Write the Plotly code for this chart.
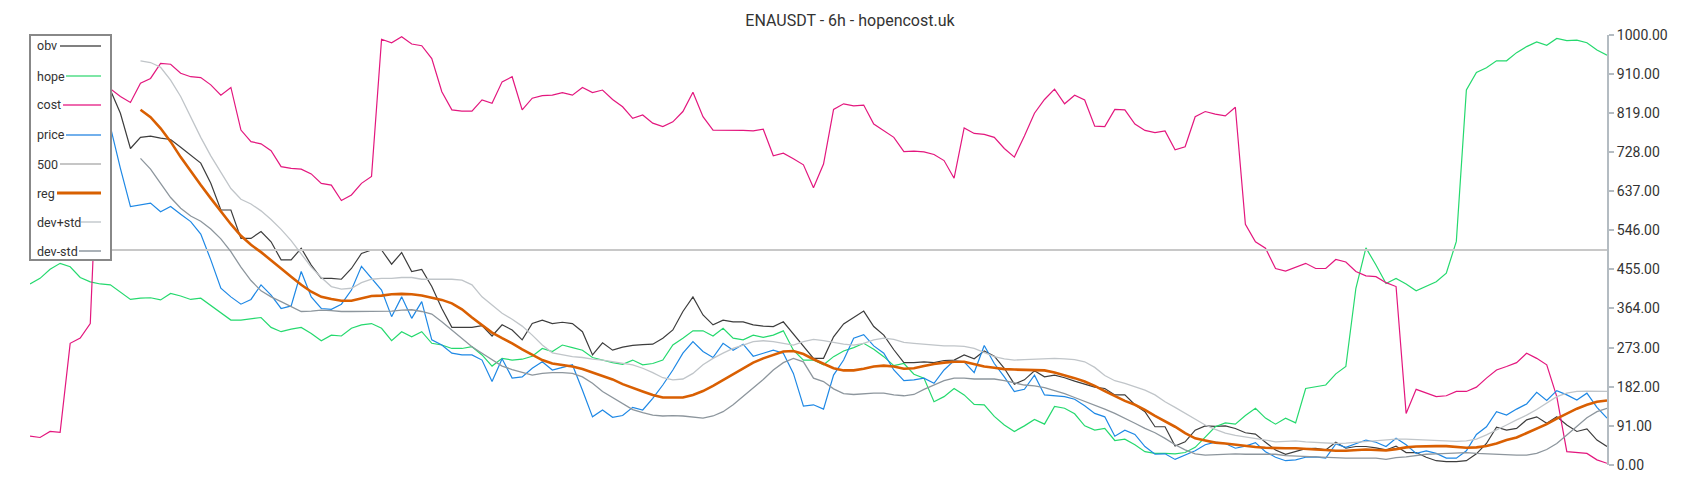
import plotly.graph_objects as go

# ---------------- data (index = 6h candle) ----------------
cost = [67, 64, 78, 76, 283, 295, 329, 880, 875, 857, 843, 888, 899, 934, 932, 911, 903, 901, 884, 860,
        878, 779, 752, 747, 731, 694, 690, 688, 677, 655, 651, 615, 628, 655, 671, 990, 982, 996, 979,
        975, 945, 868, 826, 823, 823, 849, 841, 891, 903, 826, 853, 859, 860, 866, 860, 878, 866, 872, 850,
        833, 806, 814, 795, 787, 798, 822, 867, 810, 779, 779, 779, 778, 777, 781, 719, 725, 712, 698, 645,
        700, 827, 840, 835, 837, 793, 777, 762, 729, 730, 728, 722, 708, 667, 784, 771, 769, 762, 736, 716,
        765, 818, 850, 874, 840, 860, 849, 788, 787, 827, 826, 793, 778, 773, 777, 733, 740, 810,
        822, 816, 812, 832, 560, 519, 504, 457, 451, 460, 469, 457, 457, 478, 472, 450, 440, 438, 424, 415,
        120, 176, 168, 159, 161, 171, 171, 181, 202, 221, 229, 238, 260, 248, 233, 159, 31, 29, 27, 12, 4]

hope = [421, 434, 455, 469, 461, 436, 426, 421, 419, 401, 385, 388, 389, 384, 399, 393, 385, 388, 371, 353,
        337, 337, 340, 343, 320, 310, 316, 320, 306, 289, 302, 300, 318, 326, 329, 318, 289, 310, 298,
        310, 283, 279, 271, 271, 275, 256, 230, 248, 244, 246, 253, 271, 264, 279, 273, 267, 250, 244, 238,
        234, 244, 233, 236, 244, 279, 295, 312, 312, 300, 318, 295, 291, 302, 297, 302, 312, 267, 244, 244,
        233, 252, 265, 273, 283, 269, 252, 231, 236, 211, 202, 147, 159, 178, 163, 141, 140, 113, 93, 78,
        91, 106, 95, 136, 132, 119, 91, 81, 85, 57, 60, 47, 31, 27, 27, 26, 29, 41,
        65, 89, 98, 95, 115, 132, 109, 95, 109, 98, 178, 182, 186, 212, 229, 411, 505, 465, 422, 434,
        421, 405, 416, 426, 446, 520, 872, 913, 924, 940, 940, 959, 973, 984, 976, 992, 987, 988, 982, 965, 953]

obv = [880, 900, 920, 910, 930, 905, 890, 885, 872, 818, 736, 762, 765, 760, 757, 739, 721, 702, 655, 593,
       593, 527, 527, 543, 519, 477, 477, 504, 465, 434, 434, 432, 457, 492, 500, 500, 467, 494, 450,
       455, 415, 364, 320, 320, 320, 324, 300, 326, 314, 291, 329, 337, 329, 332, 329, 310, 256, 284, 267,
       274, 278, 280, 281, 295, 314, 357, 391, 349, 326, 337, 333, 333, 326, 323, 322, 333, 305, 275, 248,
       248, 298, 328, 343, 358, 322, 302, 268, 238, 238, 240, 238, 243, 244, 256, 247, 265, 253, 225, 188,
       198, 219, 205, 209, 203, 195, 188, 181, 178, 163, 163, 140, 124, 89, 89, 44, 54, 81,
       91, 90, 91, 85, 75, 72, 53, 35, 25, 31, 38, 39, 35, 53, 39, 43, 43, 40, 35, 44,
       29, 29, 18, 10, 8, 8, 10, 26, 50, 88, 81, 85, 105, 112, 97, 112, 93, 78, 84, 58, 43]

price = [800, 820, 810, 830, 815, 800, 790, 795, 787, 690, 601, 605, 609, 589, 601, 583, 566, 537, 477, 411,
         391, 374, 385, 419, 395, 364, 370, 450, 391, 364, 362, 374, 407, 462, 434, 407, 345, 391, 341,
         380, 291, 279, 260, 256, 256, 244, 194, 247, 202, 205, 225, 240, 221, 227, 233, 174, 112, 128, 111,
         115, 134, 128, 155, 186, 221, 260, 287, 264, 250, 283, 267, 281, 253, 260, 267, 260, 213, 137, 140,
         130, 209, 244, 295, 303, 277, 260, 221, 196, 198, 202, 190, 221, 243, 240, 215, 278, 236, 205, 171,
         176, 209, 163, 161, 159, 153, 138, 120, 112, 67, 81, 71, 43, 25, 26, 13, 23, 33,
         47, 53, 50, 39, 44, 52, 31, 18, 10, 12, 18, 19, 16, 49, 41, 49, 58, 53, 43, 62,
         47, 27, 33, 27, 16, 16, 33, 71, 89, 124, 116, 130, 142, 169, 150, 173, 163, 151, 167, 134, 109]

NA = None
reg = [NA] * 11 + [
    826, 809, 783, 752, 716, 682, 651, 620, 589, 560, 533, 512, 495, 475, 457, 438, 419, 403, 391, 386,
    382, 382, 388, 393, 394, 397, 398, 397,
    394, 389, 384, 376, 362, 343, 326, 308, 295, 283, 269, 256, 244, 236, 233, 229, 223, 215, 207, 199,
    188, 179, 171, 163, 157, 157, 157, 163, 172, 184, 198, 212, 226, 238, 248, 256, 264, 265, 258, 246,
    235, 225, 220, 220, 224, 229, 231, 229, 224, 225, 230, 235, 238, 240, 240, 234, 229, 226, 223, 222,
    221, 220, 220, 215, 209, 202, 194, 184, 172, 160, 149, 140, 128, 114, 101, 89, 74, 62,
    57, 52, 50, 47, 44, 42, 40, 39, 39, 39, 37, 36, 35, 33, 33, 35, 36, 35, 34, 37,
    41, 43, 44, 44, 44, 42, 40, 41, 44, 50, 58, 64, 74, 84, 95, 108, 120, 131, 140, 147, 150]

dev_plus = [NA] * 11 + [
    940, 936, 925, 895, 857, 809, 762, 719, 680, 643, 618, 607, 591, 571, 548, 522, 491, 460, 436, 415,
    409, 411, 424, 432, 434, 434, 436, 436,
    432, 432, 432, 432, 430, 419, 391, 372, 353, 339, 323, 302, 279, 261, 256, 252, 250, 246, 244, 240,
    236, 233, 225, 215, 203, 198, 200, 213, 233, 248, 260, 271, 279, 287, 289, 287, 283, 279, 287, 292,
    289, 285, 281, 279, 283, 291, 295, 292, 285, 283, 281, 279, 277, 277, 276, 271, 261, 252, 247, 244,
    245, 246, 247, 248, 247, 245, 240, 227, 208, 196, 190, 182, 174, 163, 147, 134, 120, 105,
    93, 83, 74, 69, 65, 61, 57, 54, 55, 56, 54, 53, 52, 50, 51, 53, 55, 57, 59, 60,
    60, 59, 58, 57, 57, 55, 56, 60, 70, 81, 93, 105, 116, 129, 145, 159, 167, 171, 172, 172, 171]

dev_minus = [NA] * 11 + [
    713, 688, 655, 622, 597, 579, 567, 549, 526, 496, 460, 429, 405, 391, 380, 368, 357, 358, 360, 359,
    357, 357, 357, 357, 357, 358, 360, 361,
    357, 351, 333, 314, 295, 275, 260, 244, 230, 222, 215, 209, 213, 215, 215, 213, 205, 190, 171, 157,
    143, 129, 122, 116, 114, 115, 114, 111, 109, 114, 124, 140, 159, 178, 199, 221, 238, 248, 240, 202,
    194, 177, 166, 164, 166, 167, 167, 163, 161, 164, 176, 186, 196, 202, 202, 200, 200, 200, 196, 191,
    186, 184, 180, 173, 166, 157, 148, 140, 130, 120, 109, 97, 85, 75, 62, 47, 35, 26,
    23, 24, 26, 26, 25, 25, 26, 25, 22, 21, 19, 18, 17, 16, 16, 16, 16, 16, 13, 17,
    19, 22, 25, 26, 27, 29, 29, 27, 26, 25, 23, 23, 23, 27, 36, 50, 70, 89, 110, 124, 132]

level = 500
tick_vals = [0, 91, 182, 273, 364, 455, 546, 637, 728, 819, 910, 1000]
tick_text = [f"{v:.2f}" for v in tick_vals]
title_text = "ENAUSDT - 6h - hopencost.uk"

# ---------------- figure ----------------
n = len(cost)
x = list(range(n))

series = [
    ("obv", obv, "#3d3d3d", 1.2),
    ("hope", hope, "#25d96e", 1.2),
    ("cost", cost, "#e3177e", 1.2),
    ("price", price, "#1e88e5", 1.2),
    ("500", [level] * n, "#c8c8c8", 2.0),
    ("reg", reg, "#d95f02", 2.6),
    ("dev+std", dev_plus, "#c0c5c9", 1.3),
    ("dev-std", dev_minus, "#8d969d", 1.3),
]

fig = go.Figure()
for name, ys, col, w in series:
    fig.add_trace(go.Scatter(x=x, y=ys, name=name, mode="lines",
                             line=dict(color=col, width=w), connectgaps=False))

# the page body has an 8px margin, so the figure is 16px smaller than the window
OFF = 8
W, H = 1700 - 2 * OFF, 500 - 2 * OFF
ML, MT = 30 - OFF, 35 - OFF
MR = W - (1607 - OFF)
MB = H - (465 - OFF)
PW, PH = W - ML - MR, H - MT - MB


def px_x(px):
    # px in window pixel coordinates -> paper fraction
    return (px - OFF - ML) / PW


def px_y(py):
    return (H - MB - (py - OFF)) / PH


# manual legend (label first, line sample after it, as in the original)
legend_items = [
    ("obv", "#808080", 2, 46, 60),
    ("hope", "#7ee6a6", 2, 76, 66),
    ("cost", "#ee6aae", 2, 105, 63),
    ("price", "#72b0ec", 2, 135, 66),
    ("500", "#c6c6c6", 2, 164, 60),
    ("reg", "#d86000", 3, 193, 57),
    ("dev+std", "#d3d7da", 2, 222, 81),
    ("dev-std", "#aab1b7", 2, 251, 79),
]
shapes = [dict(type="rect", xref="paper", yref="paper",
               x0=px_x(30), x1=px_x(111), y0=px_y(260), y1=px_y(35),
               fillcolor="white", line=dict(color="#888888", width=2), layer="above")]
annotations = []
for label, col, w, yy, xs in legend_items:
    shapes.append(dict(type="line", xref="paper", yref="paper",
                       x0=px_x(xs), x1=px_x(101), y0=px_y(yy), y1=px_y(yy),
                       line=dict(color=col, width=w), layer="above"))
    annotations.append(dict(text=label, xref="paper", yref="paper",
                            x=px_x(35), y=px_y(yy), xanchor="left", yanchor="middle",
                            showarrow=False, font=dict(family="Roboto", size=12.5, color="#333333")))

fig.update_layout(
    width=W, height=H,
    margin=dict(l=ML, r=MR, t=MT, b=MB, pad=0),
    paper_bgcolor="white", plot_bgcolor="white",
    showlegend=False,
    font=dict(family="Roboto", color="#333333"),
    title=dict(text=title_text, x=0.5, xanchor="center", y=1 - (20 - OFF) / H, yanchor="middle",
               font=dict(family="Roboto", size=16, color="#333333")),
    xaxis=dict(visible=False, range=[0, n - 1]),
    yaxis=dict(side="right", range=[0, 1000], tickmode="array", tickvals=tick_vals, ticktext=tick_text,
               showgrid=False, zeroline=False, showline=True, linecolor="#b4bcc2", linewidth=2,
               ticks="outside", ticklen=5, tickwidth=1.5, tickcolor="#b4bcc2",
               tickfont=dict(family="Roboto", size=14, color="#333333")),
    shapes=shapes,
    annotations=annotations,
)

fig.write_html("out.html")
